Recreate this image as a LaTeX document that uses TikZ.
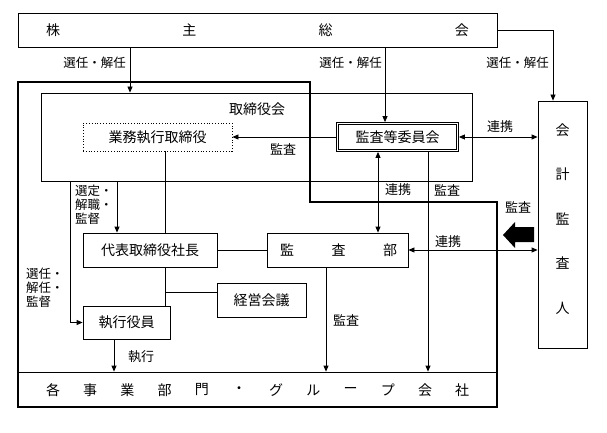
\documentclass[tikz,border=0pt]{standalone}
\usepackage{fontspec}
\setmainfont{Noto Sans CJK JP}
\usetikzlibrary{arrows.meta}

\begin{document}
\begin{tikzpicture}[x=1pt,y=-1pt,
    box/.style={draw,line width=0.8pt,inner sep=0pt,font=\fontsize{14}{16}\selectfont},
    lab/.style={inner sep=0pt,font=\fontsize{13}{15}\selectfont},
    sel/.style={inner sep=0pt,font=\fontsize{12.5}{14}\selectfont},
    big/.style={inner sep=0pt,font=\fontsize{14}{16}\selectfont},
    ln/.style={line width=0.8pt},
    arr/.style={ln,-{Triangle[length=6pt,width=5pt]}},
    darr/.style={ln,{Triangle[length=6pt,width=5pt]}-{Triangle[length=6pt,width=5pt]}}]
    \useasboundingbox (0,0) rectangle (607,433);
    % boxes
    \node[box,minimum width=479,minimum height=34] (gm) at (257.5,30) {};
    \foreach \c [count=\i] in {株,主,総,会}
        \node[big] (gm\i) at ({53+136.3*(\i-1)},30) {\c};
    \node[box,minimum width=431,minimum height=88] (board) at (256.5,137) {};
    \node[big] (boardlab) at (257,109) {取締役会};
    \node[box,dotted,minimum width=149,minimum height=28] (exec) at (157.5,137) {業務執行取締役};
    \node[box,double,line width=0.6pt,double distance=1.6pt,outer sep=1.4pt,
        minimum width=120,minimum height=27] (acm) at (397.5,137) {監査等委員会};
    \node[box,minimum width=49,minimum height=247] (auditor) at (562.5,224.5) {};
    \foreach \c [count=\i] in {会,計,監,査,人}
        \node[big] (aud\i) at (562.5,{130+44.5*(\i-1)}) {\c};
    \node[box,minimum width=134,minimum height=34] (pres) at (150,250) {代表取締役社長};
    \node[box,minimum width=141,minimum height=34] (iad) at (337.5,250) {};
    \foreach \c [count=\i] in {監,査,部}
        \node[big] (iad\i) at ({287+51.5*(\i-1)},250) {\c};
    \node[box,minimum width=89,minimum height=34] (mgmt) at (261.5,300) {経営会議};
    \node[box,minimum width=87,minimum height=33] (officers) at (126.5,322.5) {執行役員};
    \node[box,minimum width=479,minimum height=35] (units) at (257.5,389.5) {};
    \foreach \c [count=\i] in {各,事,業,部,門,・,グ,ル,ー,プ,会,社}
        \node[big] (unit\i) at ({53+37.2*(\i-1)},390) {\c};
    % thick frame
    \draw[line width=2.2pt] (18,82) -- (310,82) -- (310,202) -- (497,202)
        -- (497,407) -- (18,407) -- cycle;
    % connectors
    \draw[arr] (gm.south -| 130,0) -- (board.north -| 130,0);
    \draw[arr] (gm.south -| 385,0) -- (acm.north -| 385,0);
    \draw[arr] (gm.east) -| (auditor.north -| 553,0);
    \draw[arr] (acm.west) -- (exec.east);
    \draw[darr] (acm.east) -- (acm.east -| auditor.west);
    \draw[darr] (acm.south -| 378,0) -- (iad.north -| 378,0);
    \draw[arr] (acm.south -| 428,0) -- (units.north -| 428,0);
    \draw[darr] (iad.east) -- (iad.east -| auditor.west);
    \draw[ln] (pres.east) -- (iad.west);
    \draw[ln] (exec.south -| 165,0) -- (pres.north -| 165,0);
    \draw[arr] (board.south -| 117,0) -- (pres.north -| 117,0);
    \draw[arr] (board.south -| 70,0) |- (officers.west);
    \draw[ln] (pres.south -| 165,0) -- (officers.north -| 165,0);
    \coordinate (br) at (165,292);
    \draw[ln] (br) -- (mgmt.west |- br);
    \draw[arr] (officers.south -| 114,0) -- (units.north -| 114,0);
    \draw[arr] (iad.south -| 326,0) -- (units.north -| 326,0);
    % block arrow
    \fill (503,235) -- (515,222) -- (515,227) -- (534,227) -- (534,242)
        -- (515,242) -- (515,248) -- cycle;
    % labels
    \node[sel,anchor=east] (l1) at (126,63) {選任・解任};
    \node[sel,anchor=east] (l2) at (382,63) {選任・解任};
    \node[sel,anchor=east] (l3) at (549,63) {選任・解任};
    \node[lab] (l4) at (283,149) {監査};
    \node[lab] (l5) at (500,127) {連携};
    \node[lab] (l6) at (398,190) {連携};
    \node[lab] (l7) at (447,190) {監査};
    \node[lab] (l8) at (518,207) {監査};
    \node[lab] (l9) at (448,242) {連携};
    \node[sel,anchor=north west,align=left] (l10) at (75,185) {選定・\\解職・\\監督};
    \node[sel,anchor=north west,align=left] (l11) at (26,268) {選任・\\解任・\\監督};
    \node[lab] (l12) at (141,357) {執行};
    \node[lab] (l13) at (346,320) {監査};
\end{tikzpicture}
\end{document}
